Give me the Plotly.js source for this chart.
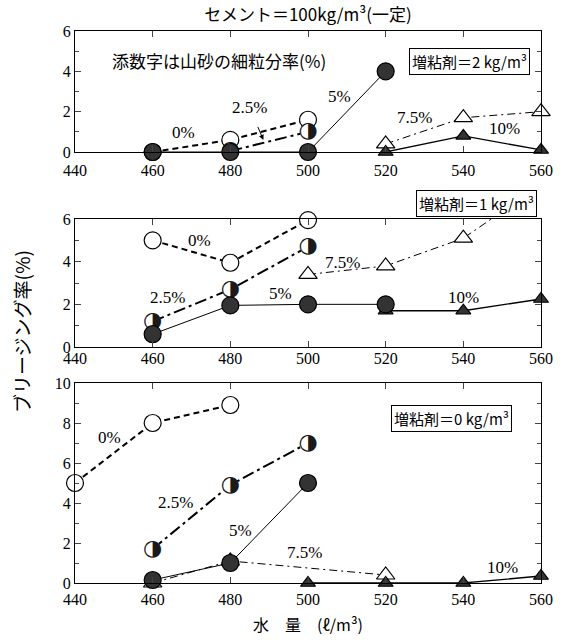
<!DOCTYPE html>
<html><head><meta charset="utf-8">
<script src="https://cdn.plot.ly/plotly-3.0.1.min.js"></script>
<style>html,body{margin:0;padding:0;background:#fff}</style>
</head><body><div id="chart" style="width:567px;height:642px"></div>
<script>
// ---- data: 増粘剤 = 2 kg/m3 (top)
const a_x0 = [460, 480, 500];        const a_y0 = [0, 0.6, 1.6];
const a_x25 = [480, 500];            const a_y25 = [0.05, 1.0];
const a_x5 = [460, 480, 500, 520];   const a_y5 = [0, 0, 0, 4.0];
const a_x75 = [520, 540, 560];       const a_y75 = [0.4, 1.7, 2.0];
const a_x10 = [520, 540, 560];       const a_y10 = [0, 0.8, 0.1];
// ---- 増粘剤 = 1 kg/m3 (middle)
const b_x0 = [460, 480, 500];        const b_y0 = [5.0, 3.95, 5.95];
const b_x25 = [460, 480, 500];       const b_y25 = [1.2, 2.7, 4.7];
const b_x5 = [460, 480, 500, 520];   const b_y5 = [0.6, 1.95, 2.0, 2.0];
const b_x75 = [500, 520, 540, 560];  const b_y75 = [3.4, 3.8, 5.1, 7.6];
const b_x10 = [520, 540, 560];       const b_y10 = [1.7, 1.7, 2.25];
// ---- 増粘剤 = 0 kg/m3 (bottom)
const c_x0 = [440, 460, 480];        const c_y0 = [5.0, 8.0, 8.9];
const c_x25 = [460, 480, 500];       const c_y25 = [1.7, 4.9, 7.0];
const c_x5 = [460, 480, 500];        const c_y5 = [0.15, 1.0, 5.0];
const c_x75 = [460, 480, 520];       const c_y75 = [0.0, 1.1, 0.4];
const c_x10 = [500, 520, 540, 560];  const c_y10 = [0, 0, 0, 0.35];
// ---- text
const seriesLabels = ['0%', '2.5%', '5%', '7.5%', '10%'];
const panelLabels = ['増粘剤＝2 kg/m³', '増粘剤＝1 kg/m³', '増粘剤＝0 kg/m³'];
const xTicks = [440, 460, 480, 500, 520, 540, 560];
const mainTitle = 'セメント＝100kg/m³(一定)';
const xTitle = '水　量　(ℓ/m³)';
const yTitle = 'ブリージング率(%)';
const noteText = '添数字は山砂の細粒分率(%)';
const halfGlyph = '◑';

const DARK = '#333333';
function mk(kind) {
  if (kind === 'open') return {symbol: 'circle', size: 17, color: 'white', line: {color: 'black', width: 1.2}};
  if (kind === 'half') return {symbol: 'circle', size: 16, color: 'white', line: {color: 'white', width: 0}};
  if (kind === 'fill') return {symbol: 'circle', size: 17, color: DARK, line: {color: 'black', width: 1.2}};
  if (kind === 'otri') return {symbol: 'triangle-up', size: 16, color: 'white', line: {color: 'black', width: 1.2}};
  return {symbol: 'triangle-up', size: 13, color: DARK, line: {color: 'black', width: 1.2}};
}
const styles = [
  {m: 'open', line: {color: 'black', width: 2, dash: '6px,4px'}},
  {m: 'half', line: {color: 'black', width: 2, dash: '12px,4px,3px,4px'}},
  {m: 'fill', line: {color: 'black', width: 1}},
  {m: 'otri', line: {color: 'black', width: 1, dash: '8px,4px,2px,4px'}},
  {m: 'ftri', line: {color: 'black', width: 1.3}}
];
const panels = [
  {xs: [a_x0, a_x25, a_x5, a_x75, a_x10], ys: [a_y0, a_y25, a_y5, a_y75, a_y10], ax: ''},
  {xs: [b_x0, b_x25, b_x5, b_x75, b_x10], ys: [b_y0, b_y25, b_y5, b_y75, b_y10], ax: '2'},
  {xs: [c_x0, c_x25, c_x5, c_x75, c_x10], ys: [c_y0, c_y25, c_y5, c_y75, c_y10], ax: '3'}
];
const traces = [];
const order = [3, 4, 0, 1, 2];
panels.forEach((p, pi) => {
  order.forEach(si => {
    const t = {
      type: 'scatter', mode: 'lines+markers',
      x: p.xs[si], y: p.ys[si],
      xaxis: 'x' + p.ax, yaxis: 'y' + p.ax,
      name: seriesLabels[si], showlegend: false,
      line: styles[si].line, marker: mk(styles[si].m),
      cliponaxis: (pi === 1 && si === 3)
    };
    if (styles[si].m === 'half') {
      t.mode = 'lines+markers+text';
      t.text = p.xs[si].map(() => halfGlyph);
      t.textposition = 'middle center';
      t.textfont = {family: 'DejaVu Sans', size: 22, color: '#1a1a1a'};
    }
    traces.push(t);
  });
});

const tickFont = {family: 'Liberation Serif', size: 16, color: 'black'};
function xa(anchor, standoff) {
  return {anchor: anchor, range: [440, 560], tickvals: xTicks, ticks: 'inside', ticklen: 6,
    showline: true, linecolor: 'black', linewidth: 1, mirror: 'ticks', showgrid: false, zeroline: false,
    tickfont: tickFont, ticklabelstandoff: standoff, fixedrange: true};
}
function ya(anchor, dom, top) {
  return {anchor: anchor, domain: dom, range: [0, top], dtick: 2, ticks: 'inside', ticklen: 6,
    minor: {dtick: 1, ticks: 'inside', ticklen: 4}, showline: true, linecolor: 'black', linewidth: 1,
    mirror: 'ticks', showgrid: false, zeroline: false, tickfont: tickFont, fixedrange: true};
}
const H = 642, L = 75, R = 541;
const dom = (t, b) => [1 - b / H, 1 - t / H];
const labFont = {family: 'Liberation Serif', size: 17, color: 'black'};
const jpFont = {family: 'Noto Sans CJK JP', size: 15, color: 'black'};
const ann = [];
function lab(ax, x, y, t) { ann.push({xref: 'x' + ax, yref: 'y' + ax, x: x, y: y, text: t, showarrow: false, font: labFont}); }
// top
lab('', 468, 0.95, seriesLabels[0]);
ann.push({xref: 'x', yref: 'y', x: 488.5, y: 0.6, ax: 485, ay: 2.2, axref: 'x', ayref: 'y', text: seriesLabels[1],
  showarrow: true, arrowhead: 2, arrowsize: 1, arrowwidth: 1, arrowcolor: 'black', font: labFont, standoff: 0, startstandoff: 9});
lab('', 508, 2.75, seriesLabels[2]);
lab('', 527.5, 1.7, seriesLabels[3]);
lab('', 550.7, 1.15, seriesLabels[4]);
ann.push({xref: 'x', yref: 'y', x: 477, y: 4.55, text: noteText, showarrow: false, font: {family: 'Noto Sans CJK JP', size: 17, color: 'black'}});
ann.push({xref: 'x', yref: 'y', x: 541.5, y: 4.5, text: panelLabels[0], showarrow: false, font: jpFont,
  bordercolor: 'black', borderwidth: 1, borderpad: 2, bgcolor: 'white'});
// middle
lab('2', 472, 4.98, seriesLabels[0]);
lab('2', 463.8, 2.34, seriesLabels[1]);
lab('2', 493, 2.5, seriesLabels[2]);
lab('2', 509, 3.97, seriesLabels[3]);
lab('2', 540, 2.34, seriesLabels[4]);
ann.push({xref: 'paper', yref: 'paper', x: (476 - L) / (R - L), y: 1 - 203 / H, xanchor: 'center', yanchor: 'middle',
  text: panelLabels[1], showarrow: false, font: jpFont, bordercolor: 'black', borderwidth: 1, borderpad: 2, bgcolor: 'white'});
// bottom
lab('3', 449, 7.3, seriesLabels[0]);
lab('3', 466, 4.05, seriesLabels[1]);
lab('3', 482.6, 2.65, seriesLabels[2]);
lab('3', 499, 1.55, seriesLabels[3]);
lab('3', 550, 0.8, seriesLabels[4]);
ann.push({xref: 'x3', yref: 'y3', x: 537, y: 8.25, text: panelLabels[2], showarrow: false, font: jpFont,
  bordercolor: 'black', borderwidth: 1, borderpad: 2, bgcolor: 'white'});
// y title
ann.push({xref: 'paper', yref: 'paper', x: (22 - L) / (R - L), y: 1 - 332 / H, xanchor: 'center', yanchor: 'middle',
  text: yTitle, textangle: -90, showarrow: false, font: {family: 'Noto Sans CJK JP', size: 19, color: 'black'}});

const layout = {
  width: 567, height: 642, margin: {l: L, r: 567 - R, t: 0, b: 0},
  paper_bgcolor: 'white', plot_bgcolor: 'white', showlegend: false,
  title: {text: mainTitle, x: 0.5, xref: 'paper', y: 1 - 15 / H, yanchor: 'middle',
    font: {family: 'Noto Sans CJK JP', size: 17, color: 'black'}},
  xaxis: xa('y', 4), xaxis2: xa('y2', -3),
  xaxis3: Object.assign(xa('y3', 2), {title: {text: xTitle, standoff: 12, font: {family: 'Noto Sans CJK JP', size: 16, color: 'black'}}}),
  yaxis: ya('x', dom(31, 152), 6),
  yaxis2: ya('x2', dom(219, 347), 6),
  yaxis3: ya('x3', dom(383, 583), 10),
  annotations: ann
};
Plotly.newPlot('chart', traces, layout, {displayModeBar: false, staticPlot: true});
</script></body></html>
